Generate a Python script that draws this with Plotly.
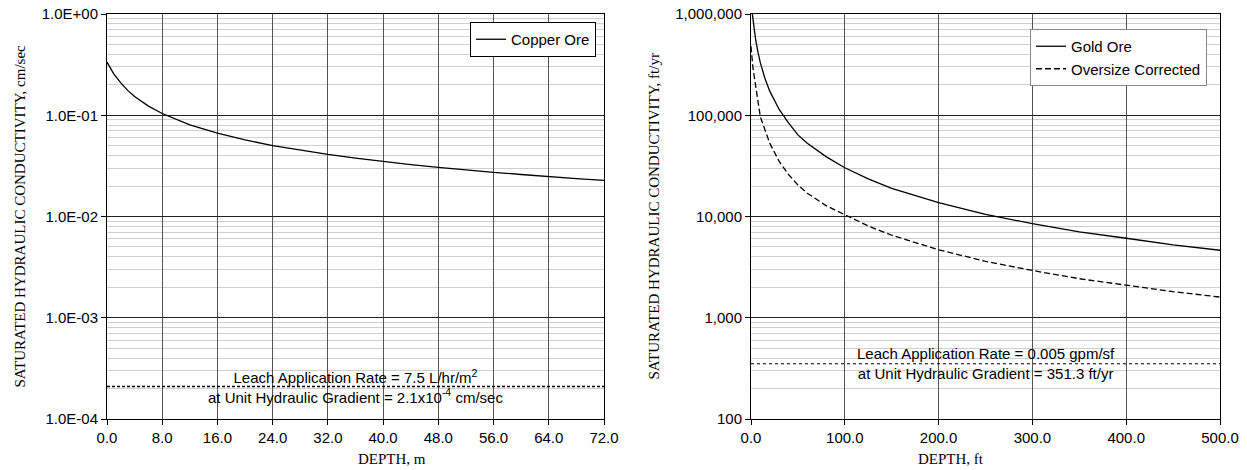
import math
import plotly.graph_objects as go

# ---------------- data ----------------
copper_depth = [0, 1, 2, 3, 4, 6, 8, 12, 16, 20, 24, 28, 32, 36, 40, 44, 48, 52, 56, 60, 64, 68, 72]
copper_k = [0.335, 0.255, 0.209, 0.176, 0.153, 0.123, 0.104, 0.0805, 0.0665, 0.0571, 0.0502, 0.0451,
            0.0410, 0.0377, 0.0349, 0.0326, 0.0306, 0.0288, 0.0273, 0.0260, 0.0247, 0.0237, 0.0227]

gold_depth = [1.4, 2, 3, 5, 7.5, 10, 15, 20, 30, 40, 50, 60, 80, 100, 125, 150, 200, 250, 300, 350, 400, 450, 500]
gold_k = [1000000, 900000, 750000, 556000, 415000, 329000, 229000, 173000, 114000, 84000, 64000, 53000,
          39000, 30300, 23500, 19000, 13700, 10500, 8500, 7060, 6100, 5250, 4640]

oversize_depth = [0, 1, 2, 3.5, 5, 7.5, 10, 15, 20, 30, 40, 50, 60, 80, 100, 125, 150, 200, 250, 300, 350, 400, 450, 500]
oversize_k = [480000, 367000, 298000, 240000, 186000, 136000, 96000, 70000, 53000, 35000, 26000, 20500,
              17000, 12800, 10400, 8060, 6530, 4690, 3610, 2930, 2430, 2080, 1810, 1600]

left_x_range = [0, 72]
right_x_range = [0, 500]
leach_left = 2.1e-4
leach_right = 351.3

left_y_tickvals = [1e-4, 1e-3, 1e-2, 1e-1, 1e0]
left_y_ticktext = ["1.0E-04", "1.0E-03", "1.0E-02", "1.0E-01", "1.0E+00"]
right_y_tickvals = [1e2, 1e3, 1e4, 1e5, 1e6]
right_y_ticktext = ["100", "1,000", "10,000", "100,000", "1,000,000"]

left_note = ["Leach Application Rate = 7.5 L/hr/m<sup>2</sup>",
             "at Unit Hydraulic Gradient = 2.1x10<sup>-4</sup> cm/sec"]
right_note = ["Leach Application Rate = 0.005 gpm/sf",
              "at Unit Hydraulic Gradient = 351.3 ft/yr"]

left_xtitle = "DEPTH, m"
right_xtitle = "DEPTH, ft"
left_ytitle = "SATURATED HYDRAULIC CONDUCTIVITY, cm/sec"
right_ytitle = "SATURATED HYDRAULIC CONDUCTIVITY, ft/yr"

# ---------------- figure ----------------
W, H = 1247, 470
TOP, BOT = 14, 419          # plot-area top / bottom in px
PH = BOT - TOP
SANS = "Liberation Sans, Arial, sans-serif"
SERIF = "Liberation Serif, Times New Roman, serif"

def px_x(x):
    return x / W

def px_y(y):
    return 1 - (y - TOP) / PH

fig = go.Figure()

fig.add_trace(go.Scatter(x=copper_depth, y=copper_k, mode="lines", name="Copper Ore",
                         line=dict(color="black", width=1.3), xaxis="x", yaxis="y",
                         legend="legend"))
fig.add_trace(go.Scatter(x=left_x_range, y=[leach_left, leach_left], mode="lines",
                         line=dict(color="black", width=1.5, dash="3px,2px"), showlegend=False,
                         xaxis="x", yaxis="y"))

fig.add_trace(go.Scatter(x=gold_depth, y=gold_k, mode="lines", name="Gold Ore",
                         line=dict(color="black", width=1.3), xaxis="x2", yaxis="y2",
                         legend="legend2"))
fig.add_trace(go.Scatter(x=oversize_depth, y=oversize_k, mode="lines", name="Oversize Corrected",
                         line=dict(color="black", width=1.3, dash="6px,3px"), xaxis="x2", yaxis="y2",
                         legend="legend2"))
fig.add_trace(go.Scatter(x=right_x_range, y=[leach_right, leach_right], mode="lines",
                         line=dict(color="black", width=1.2, dash="dot"), showlegend=False,
                         xaxis="x2", yaxis="y2"))

tickfont = dict(family=SANS, size=15, color="black")
titlefont = dict(family=SERIF, size=15, color="black")

def xaxis(dom, rng, dtick, anchor):
    return dict(domain=dom, range=rng, dtick=dtick, tick0=0, tickformat=".1f",
                showgrid=True, gridcolor="#555555", gridwidth=1, zeroline=False,
                showline=True, linecolor="black", linewidth=1, mirror=True,
                ticks="outside", ticklen=5, tickcolor="black", tickfont=tickfont,
                ticklabeloverflow="allow", anchor=anchor, automargin=False)

def yaxis(rng, tv, tt, anchor):
    return dict(type="log", range=rng, tickvals=tv, ticktext=tt, domain=[0, 1],
                showgrid=True, gridcolor="#222222", gridwidth=1, zeroline=False,
                showline=True, linecolor="black", linewidth=1, mirror=True,
                ticks="outside", ticklen=5, tickcolor="black", tickfont=tickfont,
                ticklabeloverflow="allow",
                minor=dict(dtick="D1", showgrid=True, gridcolor="#cfcfcf", gridwidth=1, ticks=""),
                anchor=anchor, automargin=False)

fig.update_layout(
    width=W, height=H,
    margin=dict(l=0, r=0, t=TOP, b=H - BOT),
    paper_bgcolor="white", plot_bgcolor="white",
    xaxis=xaxis([px_x(107), px_x(604)], left_x_range, 8, "y"),
    yaxis=yaxis([-4, 0], left_y_tickvals, left_y_ticktext, "x"),
    xaxis2=xaxis([px_x(751), px_x(1220)], right_x_range, 100, "y2"),
    yaxis2=yaxis([2, 6], right_y_tickvals, right_y_ticktext, "x2"),
    legend=dict(x=px_x(596), y=px_y(22), xanchor="right", yanchor="top",
                bgcolor="white", bordercolor="black", borderwidth=1,
                font=dict(family=SANS, size=15, color="black"), itemwidth=30,
                tracegroupgap=0),
    legend2=dict(x=px_x(1207), y=px_y(29), xanchor="right", yanchor="top",
                 bgcolor="white", bordercolor="#888888", borderwidth=1,
                 font=dict(family=SANS, size=15, color="black"), itemwidth=30,
                 tracegroupgap=0),
    showlegend=True,
)

# reference-line notes
fig.add_annotation(x=sum(left_x_range) / 2, y=math.log10(leach_left), xref="x", yref="y",
                   text="<br>".join(left_note), showarrow=False, align="center",
                   font=dict(family=SANS, size=15, color="black"), yanchor="middle")
fig.add_annotation(x=sum(right_x_range) / 2, y=math.log10(leach_right), xref="x2", yref="y2",
                   text="<br>".join(right_note), showarrow=False, align="center",
                   font=dict(family=SANS, size=15, color="black"), yanchor="middle")

# axis titles
fig.add_annotation(x=(px_x(107) + px_x(604)) / 2, y=px_y(459), xref="paper", yref="paper",
                   text=left_xtitle, showarrow=False, font=titlefont, yanchor="middle")
fig.add_annotation(x=(px_x(751) + px_x(1220)) / 2, y=px_y(459), xref="paper", yref="paper",
                   text=right_xtitle, showarrow=False, font=titlefont, yanchor="middle")
fig.add_annotation(x=px_x(19), y=0.5, xref="paper", yref="paper", textangle=-90,
                   text=left_ytitle, showarrow=False, font=titlefont,
                   xanchor="center", yanchor="middle")
fig.add_annotation(x=px_x(653), y=0.5, xref="paper", yref="paper", textangle=-90,
                   text=right_ytitle, showarrow=False, font=titlefont,
                   xanchor="center", yanchor="middle")

# let the figure fill the window exactly (remove the page's default 8px body margin)
fig.write_html("out.html", config={"displayModeBar": False},
               post_script="document.body.style.margin='0';document.body.style.overflow='hidden';")
